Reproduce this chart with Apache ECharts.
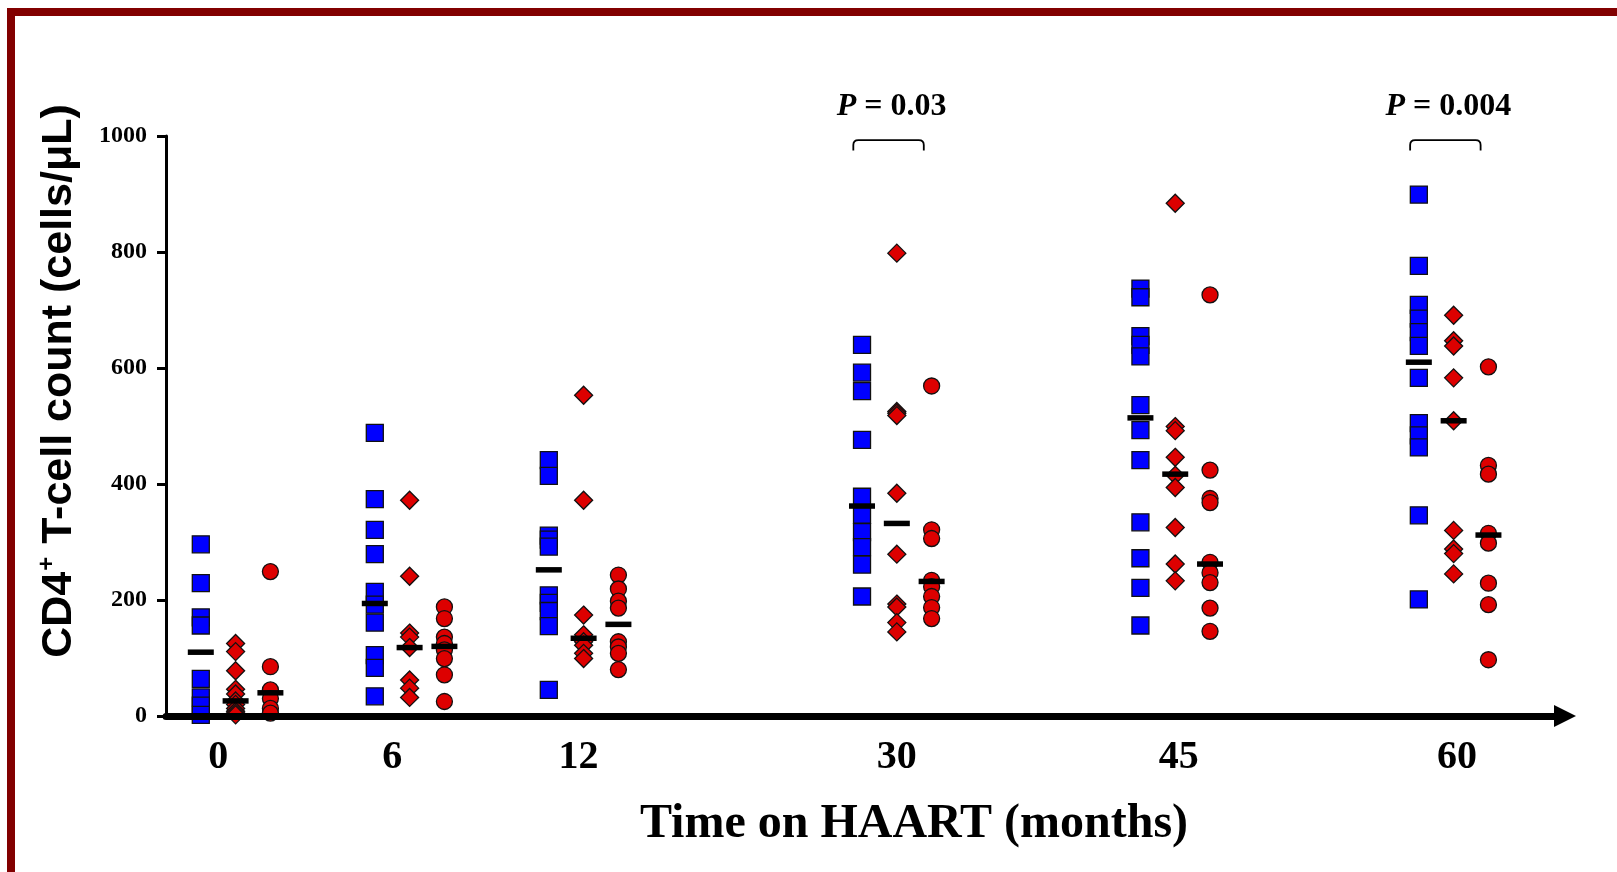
<!DOCTYPE html>
<html>
<head>
<meta charset="utf-8">
<script src="https://cdn.jsdelivr.net/npm/echarts@6/dist/echarts.min.js"></script>
<style>
  html, body { margin: 0; padding: 0; background: #ffffff; }
  #chart { width: 1617px; height: 872px; }
</style>
</head>
<body>
<div id="chart"></div>
<script>
// ---- data ----
const months = ['0', '6', '12', '30', '45', '60'];
const groupPos = [0, 1, 2, 3.8, 5.4, 7.0];          // position of each time point on the x scale
const labelPos = [-0.1, 0.9, 1.97, 3.8, 5.42, 7.02]; // where the month labels sit on the x scale
const yTicks = [0, 200, 400, 600, 800, 1000];

const blueSquares = [
  [296, 229, 170, 156, 64, 32, 18, 2],
  [488, 374, 321, 279, 214, 192, 161, 105, 83, 34],
  [441, 414, 311, 304, 292, 208, 195, 181, 155, 45],
  [640, 592, 560, 476, 378, 347, 317, 291, 261, 206],
  [737, 722, 655, 640, 620, 536, 493, 441, 334, 272, 221, 156],
  [899, 776, 709, 685, 662, 638, 583, 505, 484, 463, 346, 201]
];
const redDiamonds = [
  [125, 111, 78, 46, 38, 26, 20, 13, 8, 5, 2],
  [372, 241, 143, 136, 118, 62, 48, 32],
  [553, 372, 174, 140, 128, 122, 108, 99],
  [798, 525, 522, 518, 384, 279, 193, 188, 161, 145],
  [884, 499, 492, 446, 415, 394, 325, 262, 233],
  [691, 647, 638, 583, 509, 320, 288, 280, 245]
];
const redCircles = [
  [249, 85, 45, 30, 13, 5],
  [188, 168, 136, 125, 114, 99, 71, 25],
  [243, 219, 198, 186, 128, 119, 108, 80],
  [569, 321, 306, 234, 223, 206, 187, 168],
  [726, 424, 375, 368, 265, 247, 230, 186, 146],
  [602, 432, 417, 315, 298, 229, 192, 97]
];
const squareMedians = [110, 194, 252, 362, 514, 610];
const diamondMedians = [26, 118, 134, 332, 417, 509];
const circleMedians = [40, 120, 158, 232, 262, 312];

const pLabelMonths = ['30', '60'];
const pLabelValues = ['0.03', '0.004'];

// ---- build series data ----
const OFF = 0.2;
function pts(groups, offset) {
  const out = [];
  groups.forEach((vals, i) => vals.forEach(v => out.push([groupPos[i] + offset, v])));
  return out;
}
function medPts(meds, offset) {
  return meds.map((v, i) => [groupPos[i] + offset, v]);
}

const SERIF = '"Liberation Serif", "Times New Roman", serif';
const SANS = '"Liberation Sans", Arial, sans-serif';
const BLUE = '#0000ff';
const RED = '#dd0000';

const chart = echarts.init(document.getElementById('chart'), null, { renderer: 'canvas' });

const markerBorder = { borderColor: '#111', borderWidth: 1.3, opacity: 1 };

const option = {
  backgroundColor: '#ffffff',
  animation: false,
  grid: { left: 166, right: 52, top: 136, bottom: 156, containLabel: false },
  xAxis: {
    type: 'value',
    min: -0.4,
    max: 7.64,
    z: 5,
    splitLine: { show: false },
    axisTick: { show: false },
    axisLine: {
      show: true,
      onZero: true,
      lineStyle: { color: '#000', width: 7 },
      symbol: ['none', 'triangle'],
      symbolSize: [22, 22]
    },
    axisLabel: {
      customValues: labelPos,
      formatter: function (v) {
        let best = 0, bd = Infinity;
        labelPos.forEach((p, i) => { const d = Math.abs(p - v); if (d < bd) { bd = d; best = i; } });
        return months[best];
      },
      margin: 22,
      color: '#000',
      fontFamily: SERIF,
      fontWeight: 'bold',
      fontSize: 40
    }
  },
  yAxis: {
    type: 'value',
    min: 0,
    max: 1000,
    interval: 200,
    z: 5,
    splitLine: { show: false },
    axisLine: { show: true, onZero: false, lineStyle: { color: '#000', width: 3 } },
    axisTick: { show: true, length: 9, lineStyle: { color: '#000', width: 3 } },
    axisLabel: {
      margin: 19,
      color: '#000',
      fontFamily: SERIF,
      fontWeight: 'bold',
      fontSize: 24,
      formatter: v => (yTicks.indexOf(v) >= 0 ? String(v) : '')
    }
  },
  graphic: [
    { type: 'rect', shape: { x: 7, y: 8, width: 1620, height: 8 }, style: { fill: '#820000' }, z: 100 },
    { type: 'rect', shape: { x: 7, y: 8, width: 8, height: 880 }, style: { fill: '#820000' }, z: 100 },
    {
      type: 'text', x: 59, y: 381, rotation: Math.PI / 2, z: 100,
      style: {
        text: '{a|CD4}{s|+}{a| T-cell count (cells/\u03bcL)}',
        align: 'center', verticalAlign: 'middle',
        rich: {
          a: { fontFamily: SANS, fontWeight: 'bold', fontSize: 43, fill: '#000', lineHeight: 48, verticalAlign: 'middle' },
          s: { fontFamily: SANS, fontWeight: 'bold', fontSize: 24, fill: '#000', lineHeight: 48, verticalAlign: 'top', padding: [0, 1, 0, 1] }
        }
      }
    },
    {
      type: 'text', x: 914, y: 825, z: 100,
      style: {
        text: 'Time on HAART (months)',
        align: 'center', verticalAlign: 'middle',
        fontFamily: SERIF, fontWeight: 'bold', fontSize: 48, fill: '#000'
      }
    }
  ],
  series: [
    {
      name: 'squares', type: 'scatter', symbol: 'rect', symbolSize: 17,
      itemStyle: Object.assign({ color: BLUE }, markerBorder),
      emphasis: { disabled: true },
      data: pts(blueSquares, -OFF), z: 2
    },
    {
      name: 'diamonds', type: 'scatter', symbol: 'diamond', symbolSize: [18, 18],
      itemStyle: Object.assign({ color: RED }, markerBorder),
      emphasis: { disabled: true },
      data: pts(redDiamonds, 0), z: 2
    },
    {
      name: 'circles', type: 'scatter', symbol: 'circle', symbolSize: 16,
      itemStyle: Object.assign({ color: RED }, markerBorder),
      emphasis: { disabled: true },
      data: pts(redCircles, OFF), z: 2
    },
    {
      name: 'medians', type: 'scatter', symbol: 'rect', symbolSize: [26, 5.5],
      itemStyle: { color: '#000', opacity: 1 }, z: 4,
      emphasis: { disabled: true },
      data: medPts(squareMedians, -OFF).concat(medPts(diamondMedians, 0), medPts(circleMedians, OFF))
    },
    {
      name: 'pvalues', type: 'custom', clip: false, z: 6,
      data: pLabelMonths.map(m => [groupPos[months.indexOf(m)], 993]),
      renderItem: function (params, api) {
        const x = api.value(0);
        const yTop = api.value(1);
        const a = api.coord([x - 0.25, yTop]);
        const b = api.coord([x + 0.155, yTop]);
        const yEnd = api.coord([x, 975])[1];
        const t = api.coord([x - 0.03, 1050]);
        const r = 5;
        const path = 'M' + a[0] + ' ' + yEnd + ' L' + a[0] + ' ' + (a[1] + r) +
          ' Q' + a[0] + ' ' + a[1] + ' ' + (a[0] + r) + ' ' + a[1] +
          ' L' + (b[0] - r) + ' ' + b[1] +
          ' Q' + b[0] + ' ' + b[1] + ' ' + b[0] + ' ' + (b[1] + r) +
          ' L' + b[0] + ' ' + yEnd;
        return {
          type: 'group',
          children: [
            { type: 'path', shape: { pathData: path }, style: { stroke: '#000', lineWidth: 1.8, fill: null } },
            {
              type: 'text', x: t[0], y: t[1],
              style: {
                text: '{i|P}{n| = ' + pLabelValues[params.dataIndex] + '}',
                align: 'center', verticalAlign: 'middle',
                rich: {
                  i: { fontFamily: SERIF, fontStyle: 'italic', fontWeight: 'bold', fontSize: 32, fill: '#000' },
                  n: { fontFamily: SERIF, fontWeight: 'bold', fontSize: 32, fill: '#000' }
                }
              }
            }
          ]
        };
      }
    }
  ]
};
chart.setOption(option);
</script>
</body>
</html>
